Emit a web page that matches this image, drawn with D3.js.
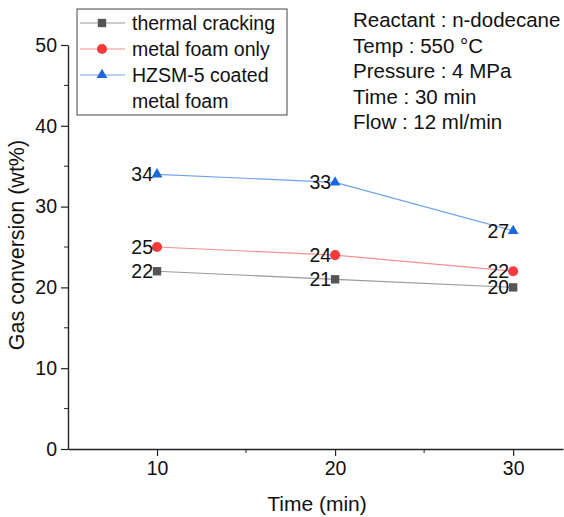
<!DOCTYPE html>
<html>
<head>
<meta charset="utf-8">
<script src="https://cdn.jsdelivr.net/npm/d3@7"></script>
<style>
body{margin:0;background:#fff}
text{font-family:"Liberation Sans",Arial,sans-serif;fill:#111}
</style>
</head>
<body>
<div id="chart"></div>
<script>
const width = 564
const height = 517

const times = [10, 20, 30]
const thermal = [22, 21, 20]
const metalFoam = [25, 24, 22]
const hzsm = [34, 33, 27]
const yTicks = [0, 10, 20, 30, 40, 50]
const xTicks = [10, 20, 30]
const seriesNames = ["thermal cracking", "metal foam only", "HZSM-5 coated\nmetal foam"]
const notes = ["Reactant : n-dodecane", "Temp : 550 °C", "Pressure : 4 MPa", "Time : 30 min", "Flow : 12 ml/min"]

const series = [
    {name: seriesNames[0], values: thermal, marker: d3.symbolSquare, size: 70, fill: "#555", line: "#999"},
    {name: seriesNames[1], values: metalFoam, marker: d3.symbolCircle, size: 80, fill: "#f53a3a", line: "#f79090"},
    {name: seriesNames[2], values: hzsm, marker: d3.symbolTriangle, size: 50, fill: "#1b67dc", line: "#6fa3f0"}
]

const svg = d3.select("div#chart").append("svg").attr("width", width).attr("height", height)

const x = d3.scaleLinear().domain([5, 32.8]).range([68, 563])
const y = d3.scaleLinear().domain([0, 50]).range([449, 45])

// axes
const xAxisGroup = svg.append("g").attr("transform", `translate(0,449)`)
    .call(d3.axisBottom(x).tickValues(xTicks).tickSize(7).tickSizeOuter(0).tickPadding(5))
xAxisGroup.append("g").selectAll("line").data([15, 25]).join("line")
    .attr("x1", d => x(d)).attr("x2", d => x(d)).attr("y1", 0).attr("y2", 4).attr("stroke", "#222")

const yAxisGroup = svg.append("g").attr("transform", `translate(68,0)`)
    .call(d3.axisLeft(y).tickValues(yTicks).tickSize(7).tickSizeOuter(0).tickPadding(4))
yAxisGroup.append("g").selectAll("line").data([5, 15, 25, 35, 45]).join("line")
    .attr("y1", d => y(d)).attr("y2", d => y(d)).attr("x1", 0).attr("x2", -4).attr("stroke", "#222")

svg.selectAll(".domain").attr("stroke", "#222").attr("stroke-width", 1.4)
svg.selectAll(".tick line").attr("stroke", "#222").attr("stroke-width", 1.2)
svg.selectAll(".tick text").style("font-size", "19.5px").attr("fill", "#111")

svg.append("text").attr("x", 317).attr("y", 511).attr("text-anchor", "middle")
    .style("font-size", "21px").text("Time (min)")
svg.append("text").attr("transform", "translate(24,245) rotate(-90)").attr("text-anchor", "middle")
    .style("font-size", "21.5px").text("Gas conversion (wt%)")

// lines + markers
const line = d3.line().x((d, i) => x(times[i])).y(d => y(d))
series.forEach(s => {
    const g = svg.append("g")
    g.append("path").datum(s.values).attr("d", line)
        .attr("fill", "none").attr("stroke", s.line).attr("stroke-width", 1.2)
    g.selectAll("path.m").data(s.values).join("path").attr("class", "m")
        .attr("d", d3.symbol().type(s.marker).size(s.size))
        .attr("transform", (d, i) => `translate(${x(times[i])},${y(d)})`)
        .attr("fill", s.fill)
    g.selectAll("text").data(s.values).join("text")
        .attr("x", (d, i) => x(times[i]) - 4)
        .attr("y", d => y(d) + 7)
        .attr("text-anchor", "end")
        .style("font-size", "19.5px")
        .text(d => d)
})

// legend
const legend = svg.append("g")
legend.append("rect").attr("x", 77).attr("y", 9).attr("width", 210).attr("height", 106)
    .attr("fill", "#fff").attr("stroke", "#444").attr("stroke-width", 1)
const rowsY = [23, 49, 75]
series.forEach((s, i) => {
    const ly = rowsY[i]
    legend.append("line").attr("x1", 80).attr("x2", 125).attr("y1", ly).attr("y2", ly)
        .attr("stroke", s.line).attr("stroke-width", 1.2)
    legend.append("path").attr("d", d3.symbol().type(s.marker).size(s.size)())
        .attr("transform", `translate(102,${ly})`).attr("fill", s.fill)
    s.name.split("\n").forEach((t, j) => {
        legend.append("text").attr("x", 132).attr("y", ly + 7 + j * 26)
            .style("font-size", "19.5px").text(t)
    })
})

// notes
svg.append("g").selectAll("text").data(notes).join("text")
    .attr("x", 353).attr("y", (d, i) => 27 + i * 25.5)
    .style("font-size", "20.5px").text(d => d)
</script>
</body>
</html>
